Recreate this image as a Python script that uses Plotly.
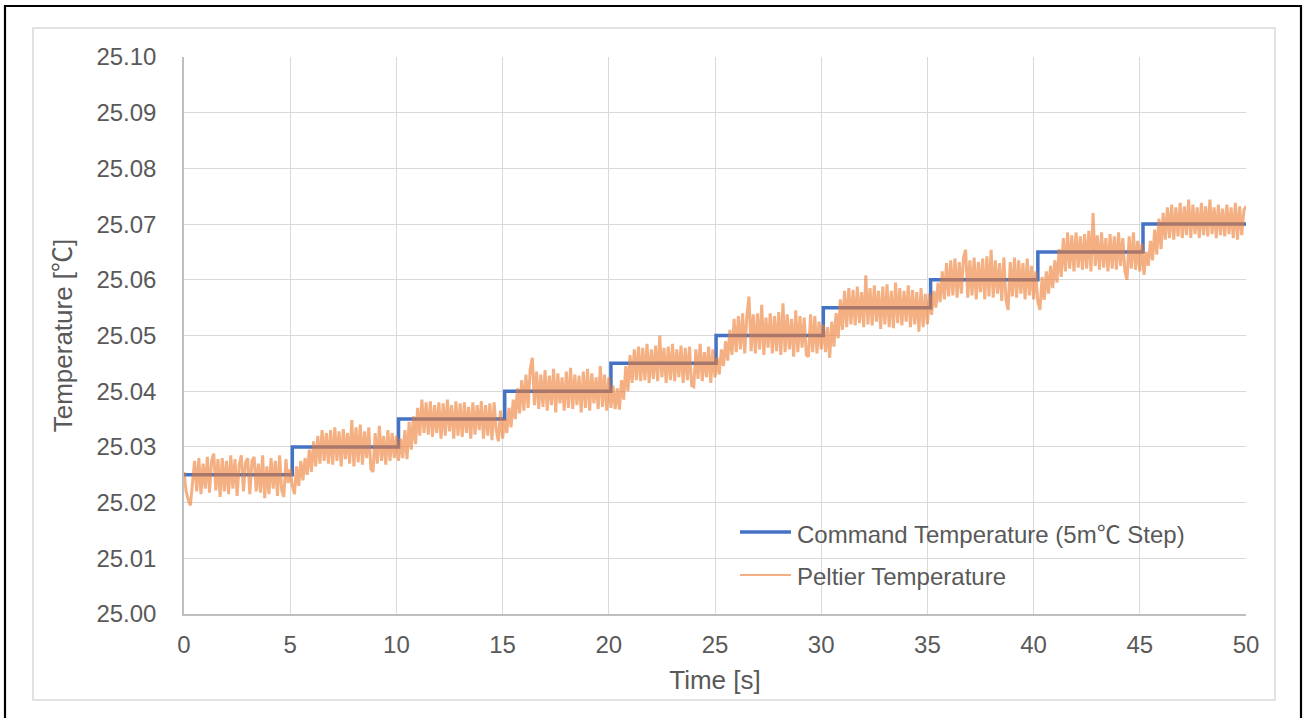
import plotly.graph_objects as go

# ---- data ---------------------------------------------------------------
BASE_TEMP = 25.0  # °C

# command temperature: level changes (time [s], temperature [°C])
cmd_time = [0.0, 5.1, 10.1, 15.1, 20.1, 25.05, 30.1, 35.15, 40.2, 45.15, 50.0]
cmd_temp = [25.025, 25.030, 25.035, 25.040, 25.045, 25.050,
            25.055, 25.060, 25.065, 25.070, 25.070]

# measured Peltier temperature, sampled every 0.1 s, in m°C above 25.000 °C
peltier_t0_5 = [25.5, 22.0, 20.5, 19.5, 23.5, 27.5, 22.0, 28.0, 21.5, 27.0,
                22.5, 28.2, 21.8, 27.5, 28.8, 22.2, 27.8, 21.0, 28.0, 22.0,
                27.5, 21.5, 28.5, 22.5, 27.8, 21.2, 26.8, 28.5, 22.0, 27.2,
                28.0, 21.5, 27.5, 28.2, 22.0, 27.0, 21.8, 28.5, 20.8, 26.5,
                21.5, 28.0, 22.5, 27.5, 21.2, 28.5, 22.2, 21.0, 27.8, 23.5]
peltier_t5_10 = [26.0, 23.0, 21.5, 26.5, 23.0, 27.5, 24.0, 28.0, 25.0, 29.5,
                 25.5, 31.0, 26.5, 32.0, 27.0, 33.0, 27.5, 32.5, 27.0, 33.0,
                 26.8, 33.5, 27.5, 32.8, 26.5, 33.2, 27.8, 32.5, 27.0, 34.8,
                 26.5, 33.5, 27.2, 34.0, 26.8, 32.8, 28.0, 33.5, 26.0, 25.5,
                 32.5, 27.0, 33.8, 27.5, 32.0, 26.8, 33.0, 27.5, 32.5, 28.0]
peltier_t10_15 = [32.0, 27.5, 31.5, 28.0, 33.0, 27.8, 34.5, 29.5, 35.5, 30.5,
                  37.0, 32.0, 38.5, 32.5, 38.0, 32.2, 38.2, 31.8, 37.5, 32.5,
                  38.0, 31.5, 37.8, 32.0, 38.5, 32.8, 37.5, 31.5, 38.2, 32.0,
                  37.8, 31.8, 38.0, 32.5, 37.2, 31.5, 38.0, 32.2, 37.5, 33.0,
                  38.2, 31.5, 37.5, 32.0, 37.8, 31.2, 38.0, 33.0, 31.0, 36.5]
peltier_t15_20 = [31.5, 35.0, 32.5, 37.0, 33.5, 38.5, 35.0, 40.5, 36.0, 42.0,
                  36.5, 43.0, 37.0, 44.0, 46.0, 37.5, 43.5, 36.8, 43.0, 37.2,
                  43.8, 36.5, 42.8, 37.5, 44.0, 36.2, 43.2, 37.8, 42.5, 36.5,
                  43.5, 37.0, 44.2, 36.8, 43.0, 37.5, 42.8, 36.2, 43.5, 37.0,
                  44.0, 36.5, 43.2, 37.8, 42.5, 36.8, 44.5, 37.2, 43.0, 36.5]
peltier_t20_25 = [42.5, 37.0, 41.0, 36.8, 40.5, 36.7, 42.0, 38.5, 44.5, 40.0,
                  46.5, 41.5, 47.5, 42.0, 48.0, 41.8, 47.8, 42.0, 48.5, 41.5,
                  47.5, 42.2, 48.2, 41.8, 50.0, 42.5, 47.8, 41.5, 48.0, 42.0,
                  48.5, 41.8, 47.5, 42.5, 48.2, 41.5, 47.8, 42.0, 48.0, 41.0,
                  40.8, 47.5, 42.2, 48.5, 41.8, 47.0, 42.5, 48.0, 41.5, 47.5]
peltier_t25_30 = [42.5, 46.0, 43.0, 47.5, 44.5, 49.0, 45.5, 51.0, 46.5, 53.0,
                  47.0, 53.5, 47.5, 54.0, 46.8, 53.5, 57.0, 47.2, 53.8, 46.8,
                  54.0, 47.5, 55.5, 46.5, 53.2, 47.8, 54.0, 46.8, 53.5, 47.2,
                  54.2, 46.5, 55.8, 47.0, 53.8, 47.5, 53.0, 46.2, 54.5, 47.0,
                  53.5, 47.8, 53.2, 46.5, 46.2, 53.8, 47.0, 53.5, 46.8, 52.5]
peltier_t30_35 = [47.5, 52.0, 47.0, 51.5, 46.0, 52.5, 48.0, 54.0, 49.5, 56.5,
                  51.0, 58.0, 51.5, 58.5, 52.0, 58.2, 51.8, 58.8, 52.2, 57.8,
                  51.5, 60.8, 52.0, 58.5, 51.8, 59.0, 52.5, 58.0, 51.2, 58.8,
                  52.0, 59.2, 51.5, 58.0, 51.3, 59.5, 52.2, 58.5, 51.8, 58.0,
                  52.5, 59.0, 51.5, 58.2, 52.0, 57.8, 50.7, 58.5, 51.5, 57.5]
peltier_t35_40 = [52.0, 57.5, 53.7, 58.0, 55.0, 59.5, 56.0, 61.5, 56.5, 63.0,
                  57.0, 63.5, 57.2, 63.8, 56.8, 63.2, 57.5, 64.0, 65.4, 56.8,
                  63.5, 57.2, 64.0, 56.5, 63.2, 57.8, 63.8, 56.5, 64.2, 57.0,
                  65.4, 56.8, 63.5, 57.5, 63.0, 56.2, 64.0, 56.4, 54.6, 63.2,
                  57.0, 64.0, 56.8, 63.5, 57.5, 63.0, 56.5, 63.8, 57.2, 62.5]
peltier_t40_45 = [56.5, 61.5, 56.0, 54.6, 60.5, 56.4, 61.5, 57.5, 62.5, 58.5,
                  63.5, 59.5, 65.5, 60.5, 67.5, 61.5, 68.5, 62.0, 68.0, 61.5,
                  68.5, 62.2, 67.8, 61.8, 68.2, 62.0, 68.8, 61.5, 72.0, 62.5,
                  68.0, 61.8, 68.5, 62.2, 67.5, 61.5, 68.2, 62.0, 67.8, 61.8,
                  68.5, 62.5, 67.5, 61.5, 60.0, 67.8, 62.0, 68.5, 61.8, 67.0]
peltier_t45_50 = [61.5, 66.5, 60.9, 65.0, 62.5, 67.0, 63.5, 69.0, 64.5, 71.0,
                  65.5, 72.0, 67.2, 73.0, 67.5, 73.5, 67.2, 73.0, 67.8, 73.8,
                  67.5, 73.2, 68.0, 74.4, 67.5, 73.5, 68.2, 73.0, 67.5, 73.8,
                  68.0, 73.2, 67.8, 74.4, 68.2, 73.0, 67.5, 73.5, 68.0, 72.8,
                  67.8, 73.5, 68.2, 73.0, 67.5, 73.8, 67.2, 73.2, 68.0, 72.5,
                  73.2]
SAMPLE_DT = 0.1  # s

x_ticks = [0, 5, 10, 15, 20, 25, 30, 35, 40, 45, 50]
y_ticks = [25.00, 25.01, 25.02, 25.03, 25.04, 25.05, 25.06, 25.07, 25.08, 25.09, 25.10]

# ---- assemble series ------------------------------------------------------
peltier_mdeg = (peltier_t0_5 + peltier_t5_10 + peltier_t10_15 + peltier_t15_20
                + peltier_t20_25 + peltier_t25_30 + peltier_t30_35
                + peltier_t35_40 + peltier_t40_45 + peltier_t45_50)
peltier_time = [round(i * SAMPLE_DT, 2) for i in range(len(peltier_mdeg))]
peltier_temp = [BASE_TEMP + v / 1000.0 for v in peltier_mdeg]

# ---- figure geometry ------------------------------------------------------
W, H = 1306, 718
L, R, T, B = 184, 60, 57, 104
PW, PH = W - L - R, H - T - B

def px(xp):
    return (xp - L) / PW

def py(yp):
    return (H - B - yp) / PH

FONT = "Liberation Sans, Arial, Noto Sans CJK JP, sans-serif"
TXT = "#595959"
BLUE = "#4472C4"
ORANGE = "#ED7D31"

fig = go.Figure()
fig.add_trace(go.Scatter(
    x=cmd_time, y=cmd_temp, mode="lines", line_shape="hv",
    line=dict(color=BLUE, width=3.5),
    name="Command Temperature (5m℃ Step)", showlegend=False,
))
fig.add_trace(go.Scatter(
    x=peltier_time, y=peltier_temp, mode="lines",
    line=dict(color=ORANGE, width=3.0), opacity=0.6,
    name="Peltier Temperature", showlegend=False,
))

fig.update_layout(
    width=W, height=H,
    margin=dict(l=L, r=R, t=T, b=B),
    paper_bgcolor="white", plot_bgcolor="white",
    font=dict(family=FONT, size=24, color=TXT),
    showlegend=False,
)
fig.update_xaxes(
    range=[0, 50], tickvals=x_ticks, ticktext=[str(v) for v in x_ticks],
    showgrid=True, gridcolor="#d9d9d9", gridwidth=1.3,
    showline=True, linecolor="#bfbfbf", linewidth=1.5,
    zeroline=False, ticks="", ticklabelstandoff=8,
    title=dict(text="Time [s]", font=dict(size=26, color=TXT), standoff=14),
)
fig.update_yaxes(
    range=[25.0, 25.1], tickvals=y_ticks, ticktext=[f"{v:.2f}" for v in y_ticks],
    showgrid=True, gridcolor="#d9d9d9", gridwidth=1.3,
    showline=True, linecolor="#bfbfbf", linewidth=1.5,
    zeroline=False, ticks="", ticklabelstandoff=21,
    title=dict(text="Temperature [℃]", font=dict(size=26, color=TXT), standoff=16),
)

shapes = [
    # chart area frame and outer frame
    dict(type="rect", xref="paper", yref="paper",
         x0=px(33), x1=px(1275), y0=py(700), y1=py(28),
         line=dict(color="#d9d9d9", width=1.5), layer="below"),
    dict(type="rect", xref="paper", yref="paper",
         x0=px(5), x1=px(1301), y0=py(722), y1=py(6),
         line=dict(color="black", width=2.2)),
    # legend keys
    dict(type="line", xref="paper", yref="paper",
         x0=px(740), x1=px(791), y0=py(532), y1=py(532),
         line=dict(color=BLUE, width=3.5)),
    dict(type="line", xref="paper", yref="paper",
         x0=px(740), x1=px(791), y0=py(575), y1=py(575),
         line=dict(color=ORANGE, width=2), opacity=0.6),
]
annotations = [
    dict(xref="paper", yref="paper", x=px(795), y=py(534), xanchor="left",
         yanchor="middle", text="Command Temperature (5m℃ Step)",
         showarrow=False, font=dict(size=24, color=TXT)),
    dict(xref="paper", yref="paper", x=px(795), y=py(576), xanchor="left",
         yanchor="middle", text="Peltier Temperature",
         showarrow=False, font=dict(size=24, color=TXT)),
]
fig.update_layout(shapes=shapes, annotations=annotations)

fig.write_html("out.html")
